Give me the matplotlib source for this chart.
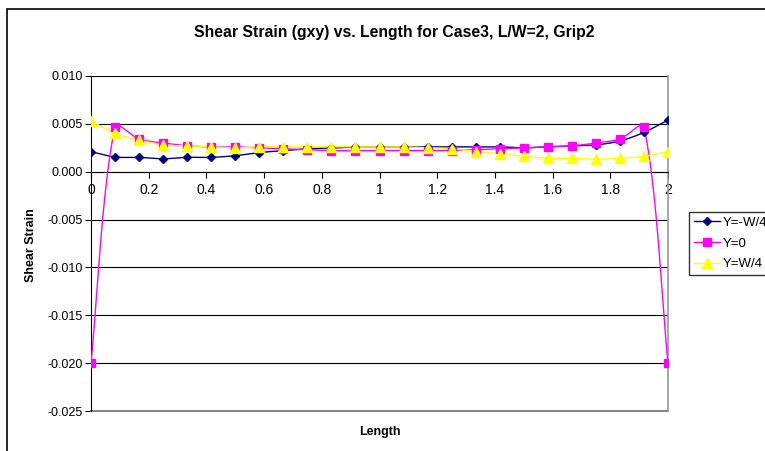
import numpy as np
import matplotlib
matplotlib.use("Agg")
import matplotlib.pyplot as plt
from matplotlib.patches import Rectangle

plt.rcParams['font.family'] = ['Liberation Sans', 'DejaVu Sans']

length = [i / 12 for i in range(25)]
y_neg = [0.0021, 0.00153, 0.0015, 0.00135, 0.0015, 0.0015, 0.00167, 0.0020, 0.0022,
         0.0024, 0.00247, 0.0026, 0.0026, 0.0026, 0.0026, 0.0026, 0.0026, 0.0026,
         0.0025, 0.0026, 0.0027, 0.0028, 0.0032, 0.0041, 0.0054]
y_zero = [-0.020, 0.0047, 0.0034, 0.0030, 0.0027, 0.0026, 0.0026, 0.0025, 0.0024,
          0.0023, 0.0022, 0.0022, 0.0022, 0.0022, 0.0022, 0.0022, 0.0023, 0.0024,
          0.0025, 0.0026, 0.0027, 0.0030, 0.0034, 0.0047, -0.020]
y_pos = [0.0053, 0.0040, 0.0033, 0.0028, 0.0027, 0.0026, 0.0025, 0.0026, 0.0026,
         0.0026, 0.0026, 0.0026, 0.0026, 0.0026, 0.0025, 0.0024, 0.0021, 0.0019,
         0.0016, 0.0014, 0.0014, 0.0013, 0.0014, 0.0016, 0.0021]
series_labels = ['Y=-W/4', 'Y=0', 'Y=W/4']
x_ticks = [0, 0.2, 0.4, 0.6, 0.8, 1, 1.2, 1.4, 1.6, 1.8, 2]
x_tick_labels = ['0', '0.2', '0.4', '0.6', '0.8', '1', '1.2', '1.4', '1.6', '1.8', '2']
y_ticks = [0.010, 0.005, 0.000, -0.005, -0.010, -0.015, -0.020, -0.025]

fig = plt.figure(figsize=(7.65, 4.51), dpi=100)
W, H = 765, 451
ax = fig.add_axes([91 / W, 1 - 411 / H, (668 - 91) / W, (411 - 76) / H])
ax.set_xlim(0, 2)
ax.set_ylim(-0.025, 0.010)


def smooth(x, y, n=24, k=0.8):
    # Bezier smoothing in display space with control arms proportional to segment length
    pts = ax.transData.transform(np.column_stack([x, y]))
    m = len(pts)
    tang = []
    for i in range(m):
        a = pts[max(i - 1, 0)]
        b = pts[min(i + 1, m - 1)]
        d = b - a
        tang.append(d / (np.hypot(*d) + 1e-12))
    out = [pts[0]]
    t = np.linspace(0, 1, n)[1:]
    for i in range(m - 1):
        p0, p3 = pts[i], pts[i + 1]
        L = np.hypot(*(p3 - p0))
        c1 = p0 + tang[i] * L / 3 * k
        c2 = p3 - tang[i + 1] * L / 3 * k
        for tt in t:
            out.append((1 - tt) ** 3 * p0 + 3 * (1 - tt) ** 2 * tt * c1
                       + 3 * (1 - tt) * tt ** 2 * c2 + tt ** 3 * p3)
    out = ax.transData.inverted().transform(np.array(out))
    return out[:, 0], out[:, 1]


# outer chart border
fig.patches.append(Rectangle((7 / W, -0.05), 1.2, 1 - 9 / H + 0.05, transform=fig.transFigure,
                             fill=False, edgecolor='black', linewidth=1.2, zorder=0))

styles = [
    dict(color='#000080', marker='D', ms=4.2),
    dict(color='#FF00FF', marker='s', ms=5.5),
    dict(color='#FFFF00', marker='^', ms=6.5),
]
handles = []
for yv, st, lab in zip([y_neg, y_zero, y_pos], styles, series_labels):
    sx, sy = smooth(length, yv)
    ax.plot(sx, sy, color=st['color'], lw=1.0, zorder=3)
    ax.plot(length, yv, linestyle='none', marker=st['marker'], ms=st['ms'],
            color=st['color'], markeredgecolor=st['color'], zorder=4)
    h, = ax.plot([], [], color=st['color'], lw=1.0, marker=st['marker'], ms=st['ms'],
                 markeredgecolor=st['color'], label=lab)
    handles.append(h)

ax.set_yticks(y_ticks)
ax.set_yticklabels([f'{v:.3f}' for v in y_ticks], fontsize=9)
ax.set_xticks(x_ticks)
ax.set_xticklabels(x_tick_labels, fontsize=9)
ax.yaxis.grid(True, color='black', lw=0.8)
ax.set_axisbelow(True)

ax.spines['bottom'].set_position(('data', 0))
ax.spines['bottom'].set_color('black')
ax.spines['left'].set_color('black')
ax.spines['right'].set_color('#999999')
ax.spines['top'].set_visible(False)
ax.spines['right'].set_linewidth(1.2)
ax.plot([0, 2], [-0.025, -0.025], color='#888888', lw=1.5, clip_on=False, zorder=1)
ax.tick_params(axis='x', direction='out', length=4, pad=4)
ax.tick_params(axis='y', direction='out', length=4, pad=2)

fig.text(394 / W, 1 - 33 / H, 'Shear Strain (gxy) vs. Length for Case3, L/W=2, Grip2',
         ha='center', va='center', fontsize=11.3, fontweight='bold')
fig.text((91 + 668) / 2 / W, 1 - 432 / H, 'Length', ha='center', va='center',
         fontsize=9, fontweight='bold')
fig.text(31 / W, 1 - 245 / H, 'Shear Strain', ha='center', va='center', rotation=90,
         fontsize=9, fontweight='bold')

leg = fig.legend(handles=handles, loc='upper left', bbox_to_anchor=(689 / W, 1 - 212 / H),
                 frameon=True, fancybox=False, edgecolor='black', fontsize=9.5,
                 handlelength=2.0, handletextpad=0.2, borderpad=0.35, labelspacing=0.65,
                 borderaxespad=0)
leg.get_frame().set_linewidth(1.0)

fig.savefig('out.png', dpi=100)
